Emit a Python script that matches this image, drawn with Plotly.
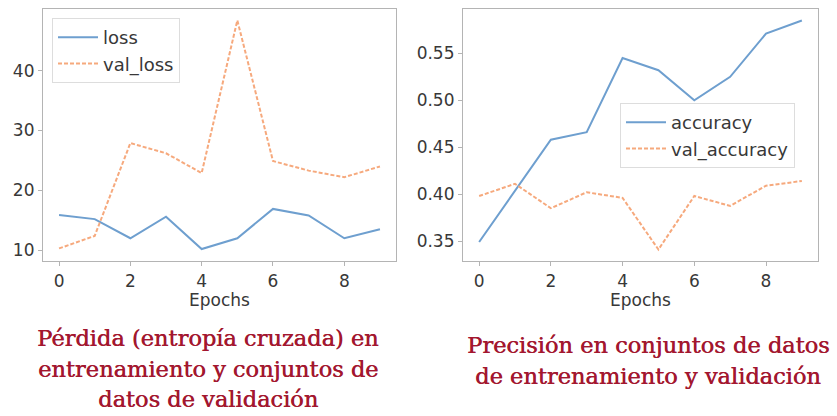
import plotly.graph_objects as go

W, H = 837, 416

epochs = list(range(10))
loss = [15.9, 15.2, 12.0, 15.6, 10.2, 12.0, 16.9, 15.8, 12.0, 13.5]
val_loss = [10.3, 12.4, 27.9, 26.2, 22.9, 48.4, 24.9, 23.3, 22.2, 24.0]
accuracy = [0.349, 0.404, 0.458, 0.466, 0.545, 0.532, 0.500, 0.525, 0.571, 0.585]
val_accuracy = [0.398, 0.411, 0.385, 0.402, 0.396, 0.341, 0.398, 0.3875, 0.409, 0.414]

loss_ticks = [10, 20, 30, 40]
acc_ticks = [0.35, 0.40, 0.45, 0.50, 0.55]
acc_tick_labels = ["0.35", "0.40", "0.45", "0.50", "0.55"]
epoch_ticks = [0, 2, 4, 6, 8]

title_left = ["Pérdida (entropía cruzada) en", "entrenamiento y conjuntos de", "datos de validación"]
title_right = ["Precisión en conjuntos de datos", "de entrenamiento y validación"]

BLUE = "#6e9fcf"
ORANGE = "#f6a97d"
TXT = "#383838"
FRAME = "#b4b4b4"
TITLE_COLOR = "#a3172f"

fig = go.Figure()
fig.add_trace(go.Scatter(x=epochs, y=loss, mode="lines", name="loss",
                         line=dict(color=BLUE, width=2), xaxis="x", yaxis="y", legend="legend"))
fig.add_trace(go.Scatter(x=epochs, y=val_loss, mode="lines", name="val_loss",
                         line=dict(color=ORANGE, width=2, dash="4px,2px"), xaxis="x", yaxis="y", legend="legend"))
fig.add_trace(go.Scatter(x=epochs, y=accuracy, mode="lines", name="accuracy",
                         line=dict(color=BLUE, width=2), xaxis="x2", yaxis="y2", legend="legend2"))
fig.add_trace(go.Scatter(x=epochs, y=val_accuracy, mode="lines", name="val_accuracy",
                         line=dict(color=ORANGE, width=2, dash="4px,2px"), xaxis="x2", yaxis="y2", legend="legend2"))

def px_x(p):
    return p / W

def px_y(p):
    return 1 - p / H

FS = 17
axis_common = dict(showline=True, mirror=True, linecolor=FRAME, linewidth=1.2,
                   ticks="outside", ticklen=4, tickcolor=FRAME, showgrid=False, zeroline=False,
                   tickfont=dict(family="DejaVu Sans", size=FS, color=TXT))
xtitle = dict(text="Epochs", font=dict(family="DejaVu Sans", size=FS, color=TXT), standoff=0)

legend_common = dict(xanchor="left", yanchor="top", bgcolor="rgba(255,255,255,0.9)",
                     bordercolor="#dddddd", borderwidth=1, itemwidth=40,
                     font=dict(family="DejaVu Sans", size=18, color=TXT))

fig.update_layout(
    width=W, height=H, margin=dict(l=0, r=0, t=0, b=0),
    paper_bgcolor="white", plot_bgcolor="white",
    xaxis=dict(domain=[px_x(43), px_x(396)], range=[-0.45, 9.45], tickvals=epoch_ticks,
               title=xtitle, anchor="y", **axis_common),
    yaxis=dict(domain=[px_y(261), px_y(9)], range=[8.2, 50.3], tickvals=loss_ticks,
               anchor="x", **axis_common),
    xaxis2=dict(domain=[px_x(463), px_x(818)], range=[-0.45, 9.45], tickvals=epoch_ticks,
                title=xtitle, anchor="y2", **axis_common),
    yaxis2=dict(domain=[px_y(261), px_y(9)], range=[0.3288, 0.5972], tickvals=acc_ticks,
                ticktext=acc_tick_labels, anchor="x2", **axis_common),
    legend=dict(x=px_x(52), y=px_y(18), **legend_common),
    legend2=dict(x=px_x(620), y=px_y(103), **legend_common),
    showlegend=True,
)

title_font = dict(family="DejaVu Serif", size=22.5, color=TITLE_COLOR,
                  shadow="0.5px 0 0 #a3172f")
for i, line in enumerate(title_left):
    fig.add_annotation(text=line, x=px_x(208), y=px_y(338 + 30.5 * i), xref="paper", yref="paper",
                       xanchor="center", yanchor="middle", showarrow=False, font=title_font)
for i, line in enumerate(title_right):
    fig.add_annotation(text=line, x=px_x(648), y=px_y(345 + 30.5 * i), xref="paper", yref="paper",
                       xanchor="center", yanchor="middle", showarrow=False, font=title_font)

fig.write_html("out.html", config={"displayModeBar": False},
               post_script="document.body.style.margin='0';document.body.style.overflow='hidden';")
